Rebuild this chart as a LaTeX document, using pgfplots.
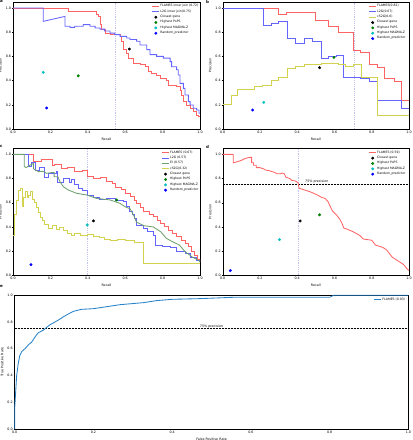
\documentclass[border=0pt]{standalone}
\usepackage{fontspec}
\setmainfont{DejaVu Sans}
\usepackage{pgfplots}
\pgfplotsset{compat=1.18}
\definecolor{flred}{RGB}{255,100,100}
\definecolor{l2gblue}{RGB}{100,100,255}
\definecolor{eigreen}{RGB}{110,160,110}
\definecolor{csyellow}{RGB}{210,210,80}
\definecolor{ptgreen}{RGB}{0,128,0}
\definecolor{ptcyan}{RGB}{0,190,190}
\definecolor{ptblue}{RGB}{0,0,255}
\definecolor{rocblue}{RGB}{40,130,200}
\definecolor{vline}{RGB}{195,195,240}
\pgfplotsset{
  base/.style={
    scale only axis,
    xmin=0,xmax=1,ymin=0,
    xtick={0,0.2,0.4,0.6,0.8,1},
    ytick={0,0.2,0.4,0.6,0.8,1},
    xtick pos=bottom, ytick pos=left,
    tick align=outside,
    major tick length=1.2bp,
    tick style={black,line width=0.3bp},
    axis line style={line width=0.4bp},
    xticklabel={\pgfmathprintnumber[fixed,fixed zerofill,precision=1,assume math mode=true]{\tick}},
    yticklabel={\pgfmathprintnumber[fixed,fixed zerofill,precision=1,assume math mode=true]{\tick}},
    ticklabel style={font=\fontsize{3.3}{4}\selectfont},
    label style={font=\fontsize{3.3}{4}\selectfont},
    xticklabel style={inner sep=0.6bp},
    yticklabel style={inner sep=0.6bp},
    legend cell align=left,
    legend style={draw=none,fill=none,font=\fontsize{3.1}{3.7}\selectfont,
      inner sep=0pt,row sep=0.5bp,nodes={inner sep=0.5bp}},
    legend image code/.code={\draw[mark repeat=2,mark phase=2,##1] plot coordinates {(0bp,0bp) (3.6bp,0bp) (7.2bp,0bp)};},
    every axis plot/.append style={line width=0.85bp},
  },
  pr/.style={base,ymax=1.05,xlabel=Recall,ylabel=Precision},
  pt/.style={only marks,mark=*,mark size=1.3bp,line width=0.3bp},
  vl/.style={vline,densely dotted,line width=0.4bp,forget plot},
}
\begin{document}
\begin{tikzpicture}
\path[use as bounding box] (0,0) rectangle (413bp,440bp);
% ---------------- panel a
\begin{axis}[pr,width=187bp,height=127bp,at={(13bp,311bp)},anchor=south west,
  legend style={at={(0.995,0.985)},anchor=north east}]
\addplot[vl] coordinates {(0.549,0)(0.549,1.05)};
\addplot[flred] coordinates {(0,1)(0.296,1)(0.296,0.973)(0.447,0.973)(0.447,0.95)(0.456,0.95)(0.456,0.93)(0.465,0.93)(0.465,0.862)(0.474,0.862)(0.474,0.82)(0.492,0.82)(0.492,0.793)(0.519,0.793)(0.519,0.78)(0.572,0.78)(0.572,0.766)(0.581,0.766)(0.581,0.725)(0.59,0.725)(0.59,0.656)(0.608,0.656)(0.608,0.628)(0.617,0.628)(0.617,0.587)(0.643,0.587)(0.643,0.545)(0.679,0.545)(0.679,0.53)(0.706,0.53)(0.706,0.515)(0.724,0.515)(0.724,0.474)(0.741,0.474)(0.741,0.46)(0.768,0.46)(0.768,0.446)(0.786,0.446)(0.786,0.419)(0.822,0.419)(0.822,0.405)(0.83,0.405)(0.83,0.364)(0.875,0.364)(0.875,0.35)(0.893,0.35)(0.893,0.322)(0.902,0.322)(0.902,0.281)(0.911,0.281)(0.911,0.226)(0.929,0.226)(0.929,0.198)(0.947,0.198)(0.947,0.171)(0.964,0.171)(0.964,0.143)(0.982,0.143)(0.982,0.116)(0.99,0.116)(0.99,0.10)(1.0,0.10)};
\addlegendentry{FLAMES inner join (0.72)}
\addplot[l2gblue] coordinates {(0,1)(0.162,1)(0.162,0.89)(0.278,0.931)(0.278,0.849)(0.305,0.849)(0.305,0.84)(0.33,0.84)(0.33,0.85)(0.376,0.85)(0.376,0.863)(0.412,0.863)(0.412,0.849)(0.439,0.849)(0.439,0.835)(0.465,0.835)(0.465,0.826)(0.49,0.826)(0.49,0.81)(0.519,0.81)(0.519,0.793)(0.545,0.793)(0.545,0.78)(0.572,0.78)(0.572,0.766)(0.608,0.766)(0.608,0.752)(0.626,0.752)(0.626,0.74)(0.661,0.74)(0.661,0.725)(0.679,0.725)(0.679,0.694)(0.715,0.694)(0.715,0.656)(0.733,0.656)(0.733,0.615)(0.768,0.615)(0.768,0.60)(0.804,0.60)(0.804,0.586)(0.84,0.586)(0.84,0.557)(0.848,0.557)(0.848,0.515)(0.875,0.515)(0.875,0.49)(0.884,0.49)(0.884,0.446)(0.893,0.446)(0.893,0.377)(0.911,0.377)(0.911,0.336)(0.92,0.336)(0.92,0.281)(0.938,0.281)(0.938,0.226)(0.947,0.226)(0.947,0.198)(0.964,0.198)(0.964,0.171)(0.982,0.171)(0.982,0.157)(0.995,0.157)(0.995,0.13)(1.0,0.13)};
\addlegendentry{L2G inner join(0.75)}
\addplot[pt,black] coordinates {(0.622,0.661)};
\addlegendentry{Closest gene}
\addplot[pt,ptgreen] coordinates {(0.349,0.44)};
\addlegendentry{Highest PoPS}
\addplot[pt,ptcyan] coordinates {(0.162,0.468)};
\addlegendentry{Highest MAGMA-Z}
\addplot[pt,ptblue] coordinates {(0.18,0.174)};
\addlegendentry{Random\_predictor}
\end{axis}
% ---------------- panel b
\begin{axis}[pr,width=186.3bp,height=127bp,at={(222.7bp,311bp)},anchor=south west,
  legend style={at={(0.985,0.985)},anchor=north east}]
\addplot[vl] coordinates {(0.708,0)(0.708,1.05)};
\addplot[flred] coordinates {(0,1)(0.30,1)(0.30,0.95)(0.34,0.95)(0.34,0.96)(0.50,0.96)(0.50,0.90)(0.57,0.90)(0.57,0.85)(0.62,0.85)(0.62,0.80)(0.70,0.80)(0.70,0.65)(0.74,0.65)(0.74,0.63)(0.79,0.63)(0.79,0.53)(0.83,0.53)(0.83,0.51)(0.87,0.51)(0.87,0.42)(0.92,0.42)(0.92,0.39)(0.96,0.39)(0.96,0.24)(1.0,0.24)};
\addlegendentry{FLAMES(0.82)}
\addplot[l2gblue] coordinates {(0,1)(0.22,1)(0.22,0.86)(0.26,0.86)(0.26,0.87)(0.30,0.87)(0.30,0.89)(0.35,0.89)(0.35,0.75)(0.39,0.75)(0.39,0.71)(0.44,0.71)(0.44,0.75)(0.48,0.75)(0.48,0.72)(0.53,0.72)(0.53,0.585)(0.567,0.585)(0.567,0.60)(0.61,0.60)(0.61,0.61)(0.65,0.61)(0.65,0.43)(0.74,0.43)(0.74,0.42)(0.79,0.42)(0.79,0.39)(0.83,0.39)(0.83,0.24)(0.87,0.24)(0.87,0.235)(0.92,0.235)(0.92,0.24)(0.96,0.24)(0.96,0.17)(1.0,0.17)};
\addlegendentry{L2G(0.67)}
\addplot[csyellow] coordinates {(0,0.20)(0.045,0.20)(0.045,0.28)(0.08,0.28)(0.08,0.33)(0.17,0.33)(0.17,0.35)(0.215,0.35)(0.215,0.36)(0.26,0.36)(0.26,0.40)(0.30,0.40)(0.30,0.43)(0.35,0.43)(0.35,0.50)(0.39,0.50)(0.39,0.52)(0.44,0.52)(0.44,0.53)(0.53,0.53)(0.53,0.54)(0.62,0.54)(0.62,0.53)(0.66,0.53)(0.66,0.52)(0.70,0.52)(0.70,0.53)(0.747,0.53)(0.747,0.43)(0.83,0.43)(0.83,0.115)(1.0,0.115)};
\addlegendentry{cS2G(0.6)}
\addplot[pt,black] coordinates {(0.52,0.507)};
\addlegendentry{Closest gene}
\addplot[pt,ptgreen] coordinates {(0.597,0.592)};
\addlegendentry{Highest PoPS}
\addplot[pt,ptcyan] coordinates {(0.22,0.22)};
\addlegendentry{Highest MAGMA-Z}
\addplot[pt,ptblue] coordinates {(0.161,0.157)};
\addlegendentry{Random\_predictor}
\end{axis}
% ---------------- panel c
\begin{axis}[pr,width=187bp,height=127bp,at={(13bp,164.7bp)},anchor=south west,
  legend style={at={(0.995,0.985)},anchor=north east}]
\addplot[vl] coordinates {(0.397,0)(0.397,1.05)};
\addplot[flred] coordinates {(0,1)(0.11,1)(0.11,0.94)(0.15,0.94)(0.15,0.96)(0.21,0.96)(0.21,0.91)(0.22,0.91)(0.22,0.92)(0.26,0.92)(0.26,0.88)(0.29,0.88)(0.29,0.89)(0.33,0.89)(0.33,0.86)(0.37,0.86)(0.37,0.87)(0.40,0.87)(0.40,0.82)(0.43,0.82)(0.43,0.80)(0.47,0.80)(0.47,0.81)(0.50,0.81)(0.50,0.78)(0.53,0.78)(0.53,0.76)(0.55,0.76)(0.55,0.73)(0.58,0.73)(0.58,0.71)(0.60,0.71)(0.60,0.68)(0.63,0.68)(0.63,0.65)(0.65,0.65)(0.65,0.62)(0.66,0.62)(0.66,0.595)(0.68,0.595)(0.68,0.56)(0.70,0.56)(0.70,0.526)(0.73,0.526)(0.73,0.50)(0.75,0.50)(0.75,0.484)(0.77,0.484)(0.77,0.45)(0.79,0.45)(0.79,0.43)(0.81,0.43)(0.81,0.40)(0.83,0.40)(0.83,0.374)(0.85,0.374)(0.85,0.35)(0.876,0.35)(0.876,0.319)(0.90,0.319)(0.90,0.29)(0.92,0.29)(0.92,0.264)(0.94,0.264)(0.94,0.237)(0.955,0.237)(0.955,0.20)(0.97,0.20)(0.97,0.168)(0.985,0.168)(0.985,0.13)(1.0,0.13)(1.0,0.11)};
\addlegendentry{FLAMES (0.67)}
\addplot[l2gblue] coordinates {(0,1)(0.085,1)(0.085,0.90)(0.10,0.90)(0.10,0.93)(0.12,0.93)(0.12,0.87)(0.14,0.87)(0.14,0.89)(0.17,0.89)(0.17,0.81)(0.19,0.81)(0.19,0.84)(0.23,0.84)(0.23,0.86)(0.24,0.86)(0.24,0.77)(0.27,0.77)(0.27,0.80)(0.30,0.80)(0.30,0.77)(0.31,0.77)(0.31,0.79)(0.33,0.79)(0.33,0.75)(0.35,0.75)(0.35,0.72)(0.37,0.72)(0.37,0.70)(0.40,0.70)(0.40,0.66)(0.43,0.66)(0.43,0.64)(0.46,0.64)(0.46,0.63)(0.50,0.63)(0.50,0.635)(0.55,0.635)(0.55,0.62)(0.59,0.62)(0.59,0.61)(0.605,0.61)(0.605,0.57)(0.62,0.57)(0.62,0.53)(0.64,0.53)(0.64,0.50)(0.65,0.50)(0.65,0.47)(0.66,0.47)(0.66,0.416)(0.70,0.416)(0.70,0.39)(0.72,0.39)(0.72,0.36)(0.75,0.36)(0.75,0.33)(0.76,0.33)(0.76,0.25)(0.80,0.25)(0.80,0.24)(0.84,0.24)(0.84,0.23)(0.876,0.23)(0.876,0.195)(0.92,0.195)(0.92,0.18)(0.95,0.18)(0.95,0.15)(0.98,0.15)(0.98,0.126)(1.0,0.126)(1.0,0.11)};
\addlegendentry{L2G (0.57)}
\addplot[eigreen] coordinates {(0,1)(0.06,1)(0.06,0.90)(0.07,0.89)(0.09,0.91)(0.11,0.925)(0.11,0.88)(0.136,0.857)(0.16,0.86)(0.18,0.843)(0.21,0.85)(0.22,0.85)(0.22,0.815)(0.24,0.815)(0.251,0.774)(0.269,0.733)(0.296,0.705)(0.34,0.678)(0.394,0.664)(0.447,0.636)(0.519,0.623)(0.572,0.595)(0.599,0.567)(0.626,0.55)(0.644,0.50)(0.66,0.44)(0.70,0.41)(0.75,0.40)(0.79,0.36)(0.82,0.306)(0.85,0.28)(0.89,0.25)(0.92,0.195)(0.96,0.15)(0.99,0.126)(1.0,0.11)};
\addlegendentry{EI (0.57)}
\addplot[csyellow] coordinates {(0,0.33)(0.01,0.33)(0.01,0.50)(0.02,0.50)(0.02,0.62)(0.03,0.62)(0.03,0.70)(0.04,0.70)(0.04,0.72)(0.048,0.72)(0.048,0.57)(0.055,0.57)(0.055,0.64)(0.065,0.64)(0.065,0.69)(0.075,0.69)(0.075,0.64)(0.085,0.64)(0.085,0.66)(0.095,0.66)(0.095,0.69)(0.105,0.69)(0.105,0.63)(0.115,0.63)(0.115,0.60)(0.125,0.60)(0.125,0.56)(0.135,0.56)(0.135,0.52)(0.145,0.52)(0.145,0.48)(0.16,0.48)(0.16,0.45)(0.17,0.45)(0.17,0.42)(0.19,0.42)(0.19,0.39)(0.21,0.39)(0.21,0.41)(0.23,0.41)(0.23,0.38)(0.25,0.38)(0.25,0.395)(0.27,0.395)(0.27,0.37)(0.29,0.37)(0.29,0.35)(0.31,0.35)(0.31,0.33)(0.33,0.33)(0.33,0.345)(0.36,0.345)(0.36,0.33)(0.40,0.33)(0.40,0.335)(0.43,0.335)(0.43,0.32)(0.46,0.32)(0.46,0.31)(0.49,0.31)(0.49,0.30)(0.52,0.30)(0.52,0.29)(0.56,0.29)(0.56,0.295)(0.60,0.295)(0.60,0.285)(0.65,0.285)(0.65,0.275)(0.695,0.275)(0.695,0.10)(1.0,0.10)};
\addlegendentry{cS2G(0.32)}
\addplot[pt,black] coordinates {(0.43,0.45)};
\addlegendentry{Closest gene}
\addplot[pt,ptgreen] coordinates {(0.554,0.623)};
\addlegendentry{Highest PoPS}
\addplot[pt,ptcyan] coordinates {(0.397,0.416)};
\addlegendentry{Highest MAGMA-Z}
\addplot[pt,ptblue] coordinates {(0.096,0.088)};
\addlegendentry{Random\_predictor}
\end{axis}
% ---------------- panel d
\begin{axis}[pr,width=186.3bp,height=127bp,at={(222.7bp,164.7bp)},anchor=south west,
  legend style={at={(0.985,0.985)},anchor=north east}]
\addplot[vl] coordinates {(0.403,0)(0.403,1.05)};
\addplot[black,dash pattern=on 2bp off 1bp,line width=0.6bp,forget plot] coordinates {(0,0.75)(1,0.75)};
\node[font=\fontsize{3.3}{4}\selectfont,anchor=south,inner sep=0.5bp] at (axis cs:0.505,0.752) {75\% precision};
\addplot[flred] coordinates {(0,1)(0.057,1)(0.057,0.93)(0.08,0.94)(0.10,0.95)(0.12,0.965)(0.143,0.975)(0.155,0.975)(0.155,0.93)(0.165,0.93)(0.165,0.91)(0.18,0.91)(0.18,0.89)(0.20,0.89)(0.21,0.885)(0.22,0.88)(0.23,0.87)(0.25,0.865)(0.26,0.86)(0.28,0.85)(0.29,0.84)(0.31,0.84)(0.32,0.845)(0.33,0.84)(0.34,0.81)(0.36,0.80)(0.37,0.785)(0.39,0.78)(0.40,0.77)(0.405,0.765)(0.41,0.72)(0.44,0.705)(0.47,0.69)(0.50,0.67)(0.53,0.645)(0.55,0.635)(0.565,0.61)(0.58,0.56)(0.59,0.53)(0.61,0.50)(0.63,0.46)(0.64,0.43)(0.65,0.39)(0.67,0.38)(0.70,0.36)(0.735,0.33)(0.755,0.30)(0.80,0.29)(0.82,0.25)(0.86,0.23)(0.88,0.21)(0.90,0.17)(0.91,0.15)(0.95,0.11)(0.97,0.09)(0.986,0.06)(0.995,0.045)(1.0,0.04)};
\addlegendentry{FLAMES (0.59)}
\addplot[pt,black] coordinates {(0.416,0.449)};
\addlegendentry{Closest gene}
\addplot[pt,ptgreen] coordinates {(0.52,0.50)};
\addlegendentry{Highest PoPS}
\addplot[pt,ptcyan] coordinates {(0.305,0.295)};
\addlegendentry{Highest MAGMA-Z}
\addplot[pt,ptblue] coordinates {(0.041,0.039)};
\addlegendentry{Random\_predictor}
\end{axis}
% ---------------- panel e
\begin{axis}[base,ymax=1,width=393.7bp,height=133.7bp,at={(14.7bp,11bp)},anchor=south west,
  xlabel=False Positive Rate,ylabel=True Positive Rate,clip=false,
  legend style={at={(0.993,0.985)},anchor=north east}]
\addplot[black,dash pattern=on 2bp off 1bp,line width=0.6bp,forget plot] coordinates {(0,0.75)(1,0.75)};
\node[font=\fontsize{3.3}{4}\selectfont,anchor=south,inner sep=0.5bp] at (axis cs:0.50,0.752) {75\% precision};
\addplot[rocblue] coordinates {(0,0)(0,0.155)(0.0025,0.28)(0.005,0.40)(0.009,0.49)(0.013,0.55)(0.018,0.58)(0.026,0.60)(0.035,0.63)(0.043,0.65)(0.052,0.69)(0.060,0.72)(0.073,0.74)(0.081,0.76)(0.090,0.78)(0.102,0.80)(0.111,0.815)(0.124,0.84)(0.136,0.86)(0.149,0.88)(0.17,0.895)(0.20,0.90)(0.234,0.915)(0.268,0.93)(0.327,0.945)(0.36,0.96)(0.40,0.97)(0.47,0.975)(0.555,0.985)(0.80,0.985)(0.81,1.0)(1.0,1.0)};
\addlegendentry{FLAMES (0.93)}
\end{axis}
% panel letters
\node[anchor=north west,inner sep=0pt,font=\bfseries\fontsize{4}{4}\selectfont] at (0bp,440bp) {a};
\node[anchor=north west,inner sep=0pt,font=\bfseries\fontsize{4}{4}\selectfont] at (206bp,440bp) {b};
\node[anchor=north west,inner sep=0pt,font=\bfseries\fontsize{4}{4}\selectfont] at (0bp,295bp) {c};
\node[anchor=north west,inner sep=0pt,font=\bfseries\fontsize{4}{4}\selectfont] at (206bp,295bp) {d};
\node[anchor=north west,inner sep=0pt,font=\bfseries\fontsize{4}{4}\selectfont] at (0bp,155bp) {e};
\end{tikzpicture}
\end{document}
